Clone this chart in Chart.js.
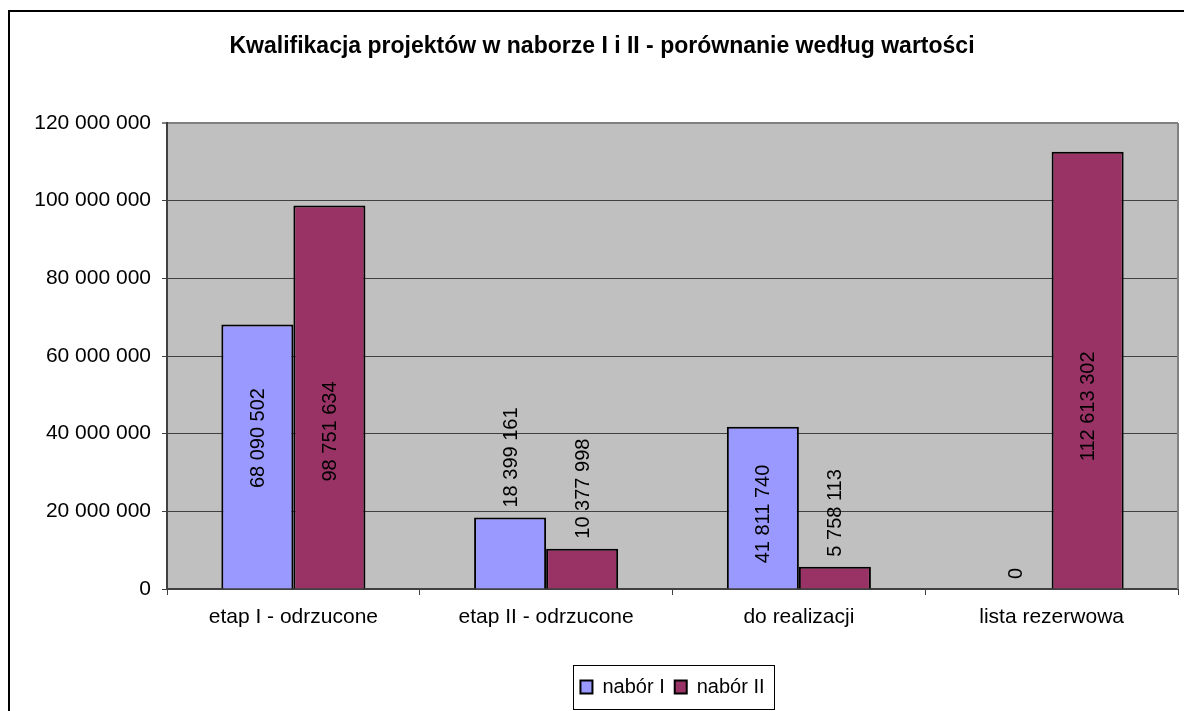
<!DOCTYPE html>
<html>
<head>
<meta charset="utf-8">
<script src="https://cdn.jsdelivr.net/npm/chart.js"></script>
<style>
  html, body { margin: 0; padding: 0; background: #fff; overflow: hidden; }
</style>
</head>
<body>
<canvas id="myChart" width="1184" height="711"></canvas>
<script>
// dane
const categories = ["etap I - odrzucone", "etap II - odrzucone", "do realizacji", "lista rezerwowa"]
const naborI = [68090502, 18399161, 41811740, 0]
const naborII = [98751634, 10377998, 5758113, 112613302]
const yTicks = [0, 20000000, 40000000, 60000000, 80000000, 100000000, 120000000]

function spaced(v) {
  return String(Math.round(v)).replace(/\B(?=(\d{3})+(?!\d))/g, " ")
}

Chart.defaults.font.family = "'Liberation Sans', Arial, sans-serif"
Chart.defaults.color = "#000"

const plotBackground = {
  id: "plotBackground",
  beforeDraw(chart) {
    const ctx = chart.ctx
    const a = chart.chartArea
    ctx.save()
    ctx.fillStyle = "#fff"
    ctx.fillRect(0, 0, chart.width, chart.height)
    ctx.fillStyle = "#C0C0C0"
    ctx.fillRect(a.left, a.top, a.right - a.left, a.bottom - a.top)
    // ramka calego wykresu (ucieta z prawej i z dolu)
    ctx.strokeStyle = "#000"
    ctx.lineWidth = 2
    ctx.strokeRect(9, 11, 1200, 720)
    ctx.restore()
  },
  beforeDatasetsDraw(chart) {
    const ctx = chart.ctx
    const a = chart.chartArea
    ctx.save()
    ctx.strokeStyle = "#808080"
    ctx.lineWidth = 2
    ctx.beginPath()
    ctx.moveTo(a.right, a.top)
    ctx.lineTo(a.right, a.bottom)
    ctx.stroke()
    ctx.restore()
  }
}

const valueLabels = {
  id: "valueLabels",
  afterDatasetsDraw(chart, args, opts) {
    const ctx = chart.ctx
    chart.data.datasets.forEach((ds, i) => {
      const meta = chart.getDatasetMeta(i)
      meta.data.forEach((bar, j) => {
        const frac = opts.inside[i][j]
        let y
        ctx.save()
        ctx.font = "20px 'Liberation Sans', Arial, sans-serif"
        ctx.fillStyle = "#000"
        ctx.textBaseline = "middle"
        if (frac != null) {
          y = bar.base - (bar.base - bar.y) * frac
          ctx.textAlign = "center"
        } else {
          y = bar.y - 10
          ctx.textAlign = "left"
        }
        ctx.translate(bar.x, y)
        ctx.rotate(-Math.PI / 2)
        ctx.fillText(spaced(ds.data[j]), 0, 1)
        ctx.restore()
      })
    })
  }
}

const legendFrame = {
  id: "legendFrame",
  afterDraw(chart) {
    const boxes = chart.legend.legendHitBoxes
    if (!boxes || !boxes.length) return
    const first = boxes[0]
    const last = boxes[boxes.length - 1]
    const cy = first.top + first.height / 2
    const ctx = chart.ctx
    ctx.save()
    ctx.strokeStyle = "#000"
    ctx.lineWidth = 1
    const left = Math.round(first.left - 7) + 0.5
    const right = Math.round(last.left + last.width + 9) + 0.5
    ctx.strokeRect(left, Math.round(cy - 22) + 0.5, right - left, 44)
    ctx.restore()
  }
}

const scorelistChart = document.getElementById("myChart")

new Chart(scorelistChart, {
  type: "bar",
  data: {
    labels: categories,
    datasets: [
      {
        label: "nabór I",
        data: naborI,
        backgroundColor: "#9999FF",
        borderColor: "#000",
        borderWidth: 2,
      },
      {
        label: "nabór II",
        data: naborII,
        backgroundColor: "#993366",
        borderColor: "#000",
        borderWidth: 2,
      },
    ],
  },
  options: {
    responsive: false,
    animation: false,
    events: [],
    layout: {
      padding: { left: 26, right: 6, top: 0, bottom: 4 },
    },
    datasets: {
      bar: {
        categoryPercentage: 0.57,
        barPercentage: 1.0,
      },
    },
    scales: {
      x: {
        grid: {
          offset: true,
          drawOnChartArea: false,
          drawTicks: true,
          tickLength: 6,
          color: "#404040",
        },
        border: { display: true, color: "#404040", width: 2 },
        ticks: {
          font: { size: 21 },
          padding: 10,
          maxRotation: 0,
        },
        afterFit(scale) {
          scale.height = 78
        },
      },
      y: {
        min: 0,
        max: 120000000,
        afterBuildTicks(scale) {
          scale.ticks = yTicks.map((v) => ({ value: v }))
        },
        grid: {
          color: (c) => (c.tick && c.tick.value === 120000000 ? "#808080" : "#404040"),
          lineWidth: (c) => (c.tick && c.tick.value === 120000000 ? 2 : 1),
          tickLength: 5,
          drawTicks: true,
        },
        border: { display: true, color: "#404040", width: 2 },
        ticks: {
          font: { size: 21 },
          padding: 11,
          callback: (v) => spaced(v),
        },
        afterFit(scale) {
          scale.width = 141
        },
      },
    },
    plugins: {
      title: {
        display: true,
        text: "Kwalifikacja projektów w naborze I i II - porównanie według wartości",
        font: { size: 23, weight: "bold" },
        color: "#000",
        padding: { top: 33, bottom: 62.4 },
      },
      legend: {
        position: "bottom",
        fullSize: false,
        labels: {
          boxWidth: 12,
          boxHeight: 13,
          padding: 10,
          font: { size: 20 },
          color: "#000",
        },
      },
      tooltip: { enabled: false },
      valueLabels: {
        inside: [
          [0.57, null, 0.46, null],
          [0.41, null, null, 0.417],
        ],
      },
    },
  },
  plugins: [plotBackground, valueLabels, legendFrame],
})
</script>
</body>
</html>
